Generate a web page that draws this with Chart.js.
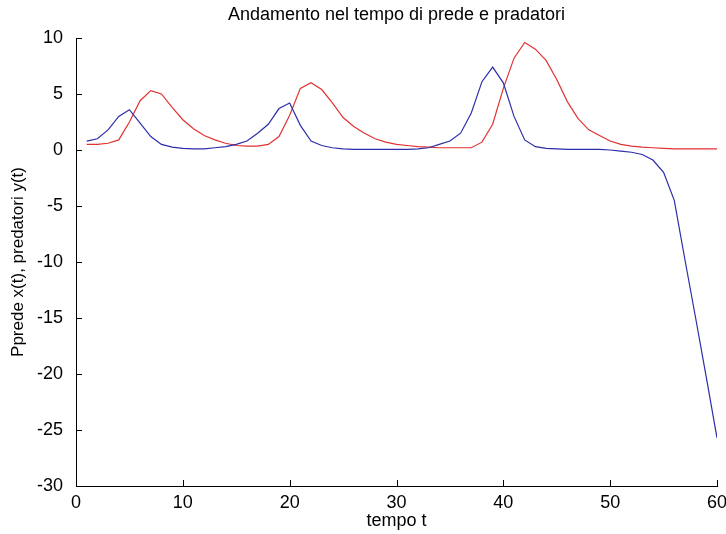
<!DOCTYPE html>
<html>
<head>
<meta charset="utf-8">
<script src="https://cdn.jsdelivr.net/npm/chart.js@4.4.0/dist/chart.umd.min.js"></script>
<style>
html,body{margin:0;padding:0;background:#fff}
canvas{display:block}
</style>
</head>
<body>
<canvas id="chart" width="726" height="534"></canvas>
<script>
// tempo t (campioni interi)
const tempo=[1,2,3,4,5,6,7,8,9,10,11,12,13,14,15,16,17,18,19,20,
  21,22,23,24,25,26,27,28,29,30,31,32,33,34,35,36,37,38,39,40,
  41,42,43,44,45,46,47,48,49,50,51,52,53,54,55,56,57,58,59,60]
// prede x(t)
const prede=[0.8,1.0,1.8,3.0,3.6,2.4,1.2,0.5,0.25,0.15,
  0.1,0.1,0.2,0.3,0.5,0.8,1.5,2.3,3.7,4.2,
  2.2,0.8,0.4,0.2,0.1,0.05,0.05,0.05,0.05,0.05,
  0.05,0.1,0.2,0.5,0.8,1.5,3.3,6.1,7.4,6.0,
  3.0,0.9,0.3,0.15,0.1,0.05,0.05,0.05,0.05,0.0,
  -0.1,-0.2,-0.4,-0.9,-2.0,-4.5,-9.8,-15.0,-20.3,-25.7]
// predatori y(t)
const predatori=[0.5,0.5,0.6,0.9,2.5,4.4,5.3,5.0,3.8,2.7,
  1.9,1.3,0.9,0.6,0.4,0.35,0.35,0.5,1.2,3.1,
  5.5,6.0,5.4,4.2,2.9,2.1,1.5,1.0,0.7,0.5,
  0.4,0.3,0.25,0.2,0.2,0.2,0.2,0.7,2.3,5.5,
  8.2,9.6,9.0,8.0,6.3,4.3,2.8,1.8,1.3,0.8,
  0.5,0.35,0.25,0.2,0.15,0.1,0.1,0.1,0.1,0.1]
const xTicks=[0,10,20,30,40,50,60]
const yTicks=[-30,-25,-20,-15,-10,-5,0,5,10]

Chart.defaults.font.family='"Liberation Sans", Arial, sans-serif'
Chart.defaults.color='#000'

// tacche verso l'interno come in matlab
const inwardTicks={
  id:'inwardTicks',
  afterDatasetsDraw(chart){
    const {ctx,chartArea,scales:{x,y}}=chart
    ctx.save()
    ctx.strokeStyle='#000'
    ctx.lineWidth=1
    ctx.beginPath()
    x.ticks.forEach(t=>{
      const px=Math.round(x.getPixelForValue(t.value))+0.5
      ctx.moveTo(px,chartArea.bottom)
      ctx.lineTo(px,chartArea.bottom-6)
    })
    y.ticks.forEach(t=>{
      const py=Math.round(y.getPixelForValue(t.value))+0.5
      ctx.moveTo(chartArea.left,py)
      ctx.lineTo(chartArea.left+6,py)
    })
    ctx.stroke()
    ctx.restore()
  }
}

const toPoints=(vals)=>tempo.map((t,i)=>({x:t,y:vals[i]}))

new Chart(document.getElementById('chart'),{
  type:'line',
  data:{
    datasets:[{
      label:'prede',
      data:toPoints(prede),
      borderColor:'rgb(45,45,170)',
      borderWidth:1.2,
      pointRadius:0,
      tension:0
    },{
      label:'predatori',
      data:toPoints(predatori),
      borderColor:'rgb(225,50,50)',
      borderWidth:1.2,
      pointRadius:0,
      tension:0
    }]
  },
  options:{
    responsive:false,
    animation:false,
    layout:{padding:{left:0,right:0,top:0,bottom:0}},
    plugins:{
      legend:{display:false},
      tooltip:{enabled:false},
      title:{
        display:true,
        text:'Andamento nel tempo di prede e pradatori',
        fullSize:false,
        font:{size:18,weight:'normal'},
        color:'#000',
        padding:{top:4,bottom:12.4}
      }
    },
    scales:{
      x:{
        type:'linear',
        min:0,max:60,
        afterBuildTicks:s=>{s.ticks=xTicks.map(v=>({value:v}))},
        afterFit:s=>{s.height=48;s.paddingRight=9;s.paddingLeft=0},
        grid:{display:true,drawOnChartArea:false,drawTicks:false},
        border:{display:true,color:'#000',width:1},
        ticks:{font:{size:18},color:'#000',padding:6,maxRotation:0},
        title:{display:true,text:'tempo t',font:{size:18},color:'#000',padding:{top:0,bottom:2}}
      },
      y:{
        type:'linear',
        min:-30,max:10,
        afterBuildTicks:s=>{s.ticks=yTicks.map(v=>({value:v}))},
        afterFit:s=>{s.width=76},
        grid:{display:true,drawOnChartArea:false,drawTicks:false},
        border:{display:true,color:'#000',width:1},
        ticks:{font:{size:18},color:'#000',padding:13},
        title:{display:true,text:'Pprede x(t), predatori y(t)',font:{size:17},color:'#000',padding:{top:8,bottom:0}}
      }
    }
  },
  plugins:[inwardTicks]
})
</script>
</body>
</html>
